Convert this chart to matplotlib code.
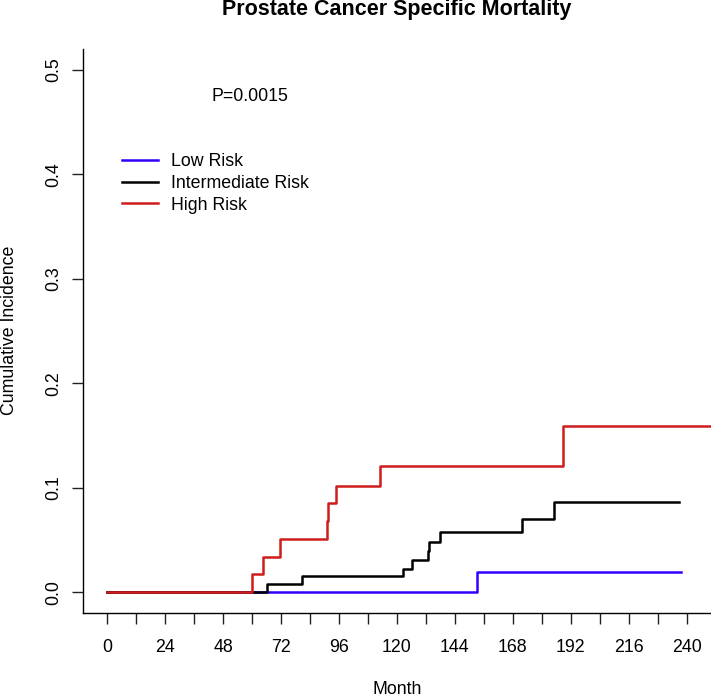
import matplotlib
matplotlib.use("Agg")
import matplotlib.pyplot as plt

plt.rcParams['font.family'] = ['Liberation Sans', 'DejaVu Sans']

# step curves (month, cumulative incidence)
low_t = [0, 153.3, 237.8]
low_y = [0, 0.019, 0.019]

int_t = [0, 66.4, 80.7, 122.6, 126.2, 132.7, 133.3, 137.9, 171.7, 184.9, 236.7]
int_y = [0, 0.0077, 0.0153, 0.0223, 0.031, 0.0395, 0.048, 0.058, 0.0704, 0.086, 0.086]

high_t = [0, 60.1, 64.5, 71.5, 91.0, 91.5, 94.6, 112.9, 188.9, 250]
high_y = [0, 0.017, 0.0335, 0.0508, 0.068, 0.085, 0.102, 0.121, 0.159, 0.159]

groups = ["Low Risk", "Intermediate Risk", "High Risk"]
colors = ["#3300FF", "#000000", "#D01C1C"]

x_ticks = list(range(0, 241, 12))
y_ticks = [0.0, 0.1, 0.2, 0.3, 0.4, 0.5]

W, H = 711, 697
fig = plt.figure(figsize=(W / 100, H / 100), dpi=100)
ax = fig.add_axes([83 / W, (H - 613) / H, (711 - 83) / W, (613 - 49) / H])

series = [(low_t, low_y), (int_t, int_y), (high_t, high_y)]
for i, (t, y) in enumerate(series):
    ax.step(t, y, where="post", color=colors[i], lw=1.8, label=groups[i], zorder=2 + i)

ax.set_xlim(-10, 250.1)
ax.set_ylim(-0.02, 0.52)

ax.spines["top"].set_visible(False)
ax.spines["right"].set_visible(False)
for s in ["left", "bottom"]:
    ax.spines[s].set_linewidth(1.0)

fs = 12.8
ax.set_xticks(x_ticks)
ax.set_xticklabels([str(v) if v % 24 == 0 else "" for v in x_ticks])
ax.set_yticks(y_ticks)
ax.set_yticklabels(["%.1f" % v for v in y_ticks], rotation=90, va="center")
ax.tick_params(axis="both", length=8, width=1.0, labelsize=fs, color="#222222")
ax.tick_params(axis="x", pad=11)
ax.tick_params(axis="y", pad=7)

ax.text(0.266, 0.915, "P=0.0015", transform=ax.transAxes, ha="center", va="center", fontsize=fs)

ax.legend(loc="upper left", bbox_to_anchor=(0.062, 0.815), frameon=False, borderpad=0,
          borderaxespad=0, handlelength=2.03, handletextpad=0.72, labelspacing=0.26,
          fontsize=fs)

fig.text(397 / W, 1 - 10 / H, "Prostate Cancer Specific Mortality", ha="center", va="center",
         fontsize=15.5, fontweight="bold")
fig.text(397 / W, 1 - 689 / H, "Month", ha="center", va="center", fontsize=fs)
fig.text(10 / W, 1 - 330 / H, "Cumulative Incidence", ha="center", va="center",
         rotation=90, fontsize=fs)

fig.savefig("out.png", dpi=100)
